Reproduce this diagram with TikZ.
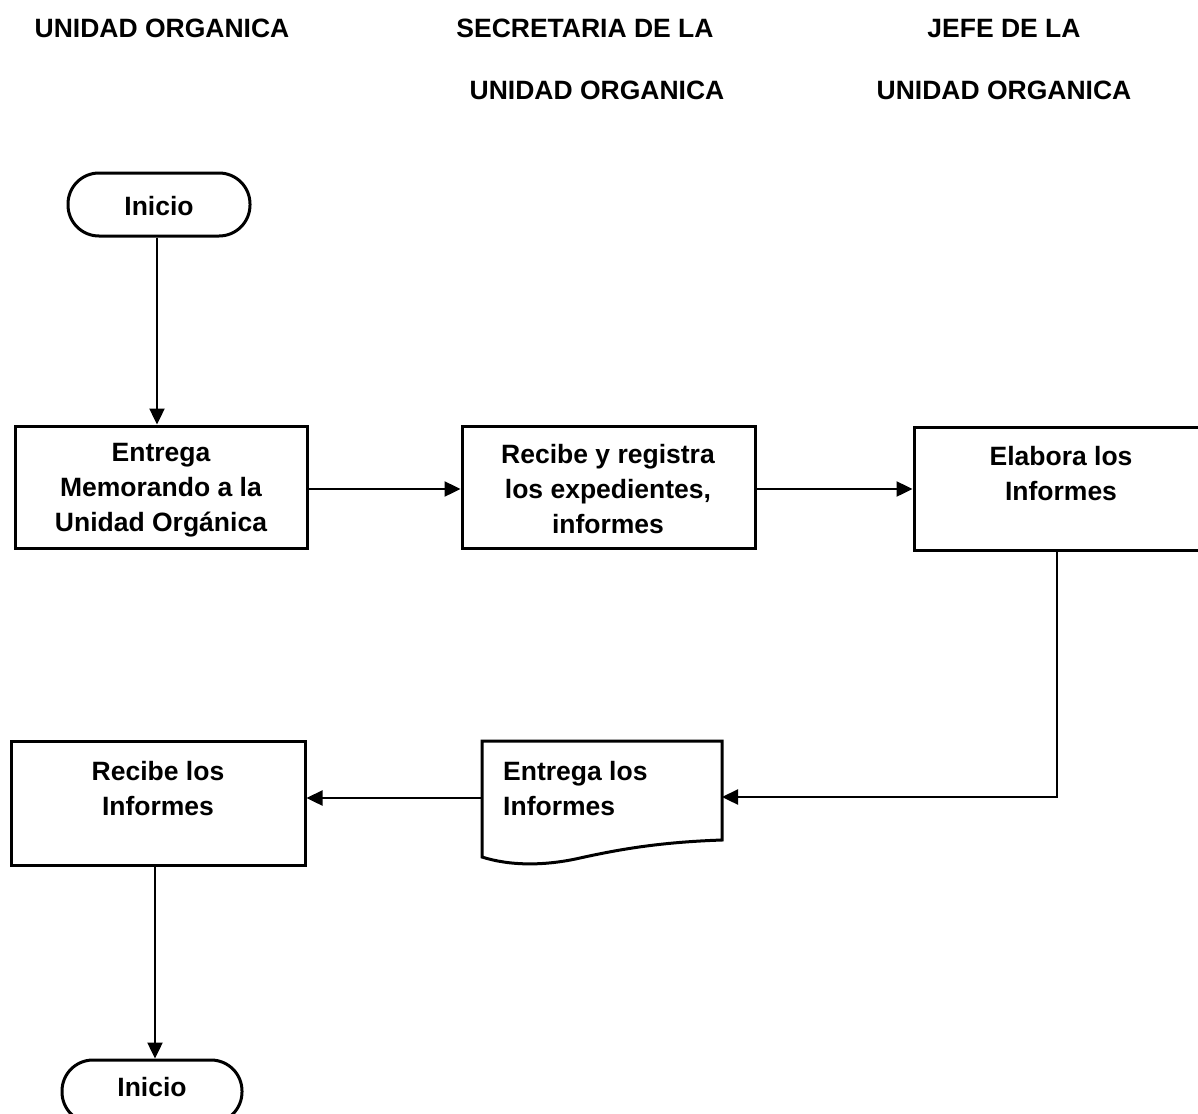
\documentclass[tikz,border=0pt]{standalone}
\usepackage{fontspec}
\setmainfont{Liberation Sans}
\usetikzlibrary{arrows.meta}
\begin{document}
\begin{tikzpicture}[x=1pt,y=-1pt,
  every node/.style={font=\bfseries\fontsize{26.5}{35}\selectfont, inner sep=0pt},
  box/.style={draw, line width=3pt, rectangle},
  term/.style={draw, line width=3pt, rectangle, rounded corners=31pt},
  lbl/.style={align=center},
  conn/.style={line width=2.4pt, -{Triangle[length=16pt,width=15pt]}},
  head/.style={anchor=base}]
\useasboundingbox (0,0) rectangle (1198,1113);
\clip (0,0) rectangle (1198,1113);
\fill[white] (0,0) rectangle (1198,1113);

% headers
\node[head] (h1) at (162,37.5) {UNIDAD ORGANICA};
\node[head] (h2a) at (585,37.5) {SECRETARIA DE LA};
\node[head] (h2b) at (597,99.5) {UNIDAD ORGANICA};
\node[head] (h3a) at (1004,37.5) {JEFE DE LA};
\node[head] (h3b) at (1004,99.5) {UNIDAD ORGANICA};

% shapes
\node[term, minimum width=182pt, minimum height=63pt] (start) at (159,204.5) {};
\node (startt) at (159,206) {Inicio};

\node[box, minimum width=292pt, minimum height=122pt] (b1) at (161,487) {};
\node[lbl] (b1t) at (161,490) {Entrega\\Memorando a la\\Unidad Orgánica};

\node[box, minimum width=293pt, minimum height=122pt] (b2) at (608.5,487) {};
\node[lbl] (b2t) at (608,489) {Recibe y registra\\los expedientes,\\informes};

\node[box, minimum width=294pt, minimum height=123pt] (b3) at (1061,488.5) {};
\node[lbl] (b3t) at (1061,474) {Elabora los\\Informes};

% document shape
\draw[line width=3pt, line join=miter]
  (482,741) -- (722,741) -- (722,840)
  .. controls (665,842) and (625,848) .. (580,858)
  .. controls (545,866) and (510,866) .. (482,857) -- cycle;
\coordinate (docL) at (482,798);
\coordinate (docR) at (722,797);
\node[align=left, anchor=west] (dt) at (503,789) {Entrega los\\Informes};

\node[box, minimum width=294pt, minimum height=124pt] (b4) at (158,803) {};
\node[lbl] (b4t) at (158,789) {Recibe los\\Informes};

\node[term, minimum width=180pt, minimum height=63pt] (fin) at (152,1091.5) {};
\node (fint) at (152,1087) {Inicio};

% connectors
\coordinate (r1) at ([yshift=-2pt]b1.east);
\draw[conn] ([xshift=-2pt]start.south) -- ([xshift=-2pt]start.south |- b1.north);
\draw[conn] ([xshift=-2pt]r1) -- (r1 -| b2.west);
\draw[conn] (r1 -| b2.east) -- (r1 -| b3.west);
\draw[conn] ([xshift=-4pt]b3.south) |- (docR);
\draw[conn] (docL) -- (docL -| b4.east);
\draw[conn] ([xshift=-3pt]b4.south) -- ([xshift=-3pt]b4.south |- fin.north);
\end{tikzpicture}
\end{document}
